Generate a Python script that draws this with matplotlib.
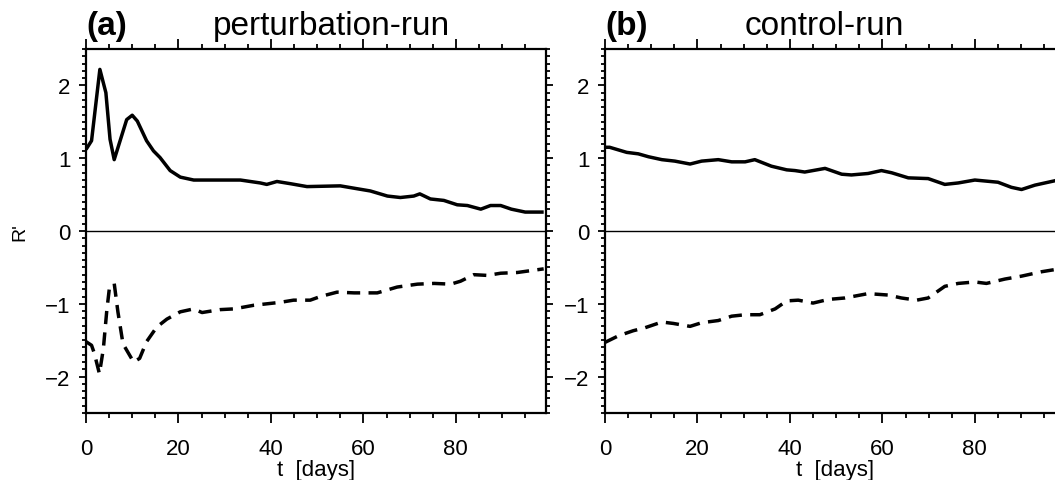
import matplotlib
matplotlib.use('Agg')
import matplotlib.pyplot as plt
from matplotlib import rcParams
from matplotlib.ticker import MultipleLocator

rcParams['font.family'] = ['Liberation Sans', 'DejaVu Sans']

# perturbation-run (a)
pert_t_solid = [0, 1.2, 3.0, 4.3, 5.2, 6.1, 8.8, 10, 11.1, 13.1, 14.6, 16, 18.2, 20.4, 23.3, 27.6,
                33.4, 37.7, 39.1, 41.3, 44.2, 47.8, 55, 58.7, 61.5, 65.2, 68, 70.9, 72.2, 74.5,
                77.4, 80.3, 82.5, 85.4, 87.5, 89.7, 92, 95, 99]
pert_solid = [1.12, 1.24, 2.22, 1.90, 1.26, 0.98, 1.53, 1.59, 1.51, 1.24, 1.10, 1.01, 0.83, 0.74,
              0.70, 0.70, 0.70, 0.66, 0.64, 0.68, 0.65, 0.61, 0.62, 0.58, 0.55, 0.48, 0.46, 0.48,
              0.51, 0.44, 0.42, 0.36, 0.35, 0.30, 0.35, 0.35, 0.30, 0.26, 0.26]
pert_t_dash = [0, 1.2, 1.8, 2.9, 3.75, 4.5, 5.05, 6.1, 6.9, 8.0, 10.3, 11.6, 13.1, 15.3, 17.5, 20.4,
               23.3, 25.1, 29, 32, 36.3, 42, 44.9, 48.5, 50.7, 54.3, 58, 63, 67.3, 71.7, 75.3,
               78.9, 81, 83.9, 86.8, 89.7, 93.3, 99]
pert_dash = [-1.52, -1.57, -1.68, -1.96, -1.62, -1.09, -0.79, -0.72, -1.11, -1.55, -1.80, -1.75,
             -1.52, -1.32, -1.21, -1.11, -1.07, -1.12, -1.08, -1.07, -1.02, -0.98, -0.95, -0.95,
             -0.90, -0.84, -0.85, -0.85, -0.77, -0.73, -0.72, -0.73, -0.69, -0.60, -0.61, -0.58,
             -0.57, -0.52]

# control-run (b)
ctrl_t_solid = [0, 1, 4.7, 7.2, 9.4, 12.3, 15.1, 18.4, 20.9, 24.5, 27.4, 30.3, 32.4, 36.0, 39.3,
                41.1, 43.2, 47.6, 51.2, 53.3, 56.9, 59.8, 62, 65.6, 69.9, 73.5, 76.4, 80, 85,
                87.9, 90.1, 93, 97.3, 99]
ctrl_solid = [1.15, 1.15, 1.08, 1.06, 1.02, 0.98, 0.96, 0.92, 0.96, 0.98, 0.95, 0.95, 0.98, 0.89,
              0.84, 0.83, 0.81, 0.86, 0.78, 0.77, 0.79, 0.83, 0.80, 0.73, 0.72, 0.64, 0.66, 0.70,
              0.67, 0.60, 0.57, 0.63, 0.69, 0.72]
ctrl_t_dash = [0, 2.9, 6.1, 8.6, 12.3, 14.8, 18.4, 20.9, 24.5, 27.4, 30.3, 33.5, 36.8, 39.3, 41.8,
               45.0, 48.3, 51.9, 56.9, 61.3, 64.1, 67.4, 69.9, 73.5, 76.4, 80, 82.5, 86.5, 90.1,
               94.4, 97.3, 99]
ctrl_dash = [-1.53, -1.44, -1.37, -1.33, -1.25, -1.27, -1.31, -1.26, -1.23, -1.17, -1.15, -1.15,
             -1.07, -0.96, -0.95, -0.99, -0.94, -0.92, -0.86, -0.88, -0.92, -0.95, -0.92, -0.76,
             -0.72, -0.70, -0.72, -0.66, -0.62, -0.56, -0.53, -0.51]

W, H = 1055, 481
fig = plt.figure(figsize=(W / 100, H / 100), dpi=100)

def pos(left, right, top, bottom):
    return [left / W, 1 - bottom / H, (right - left) / W, (bottom - top) / H]

def panel(ax, t1, y1, t2, y2, tag, name, name_x):
    ax.axhline(0, color='black', lw=1.0, zorder=1)
    ax.plot(t1, y1, color='black', lw=2.5, solid_joinstyle='round', solid_capstyle='butt')
    ax.plot(t2, y2, color='black', lw=2.5, dashes=(3.8, 2.4), dash_capstyle='butt')
    ax.set_xlim(0, 99.5)
    ax.set_ylim(-2.5, 2.5)
    ax.xaxis.set_major_locator(MultipleLocator(20))
    ax.xaxis.set_minor_locator(MultipleLocator(5))
    ax.yaxis.set_major_locator(MultipleLocator(1))
    ax.yaxis.set_minor_locator(MultipleLocator(0.1))
    ax.tick_params(which='both', direction='out', top=True, right=True, width=1.3)
    ax.tick_params(axis='x', which='major', length=7, labelsize=16, pad=11)
    ax.tick_params(axis='x', which='minor', length=3.5)
    ax.tick_params(axis='y', which='major', length=5, labelsize=16, pad=6)
    ax.tick_params(axis='y', which='minor', length=3)
    for s in ax.spines.values():
        s.set_linewidth(1.6)
    ax.set_xlabel('t  [days]', fontsize=16, labelpad=0)
    ax.text(0, 1.04, tag, transform=ax.transAxes, fontsize=24, fontweight='bold',
            ha='left', va='baseline')
    ax.text(name_x, 1.04, name, transform=ax.transAxes, fontsize=24,
            ha='center', va='baseline')

ax1 = fig.add_axes(pos(86, 546, 50, 414))
panel(ax1, pert_t_solid, pert_solid, pert_t_dash, pert_dash, '(a)', 'perturbation-run', 0.533)

ax2 = fig.add_axes(pos(605, 1065, 50, 414))
panel(ax2, ctrl_t_solid, ctrl_solid, ctrl_t_dash, ctrl_dash, '(b)', 'control-run', 0.476)

fig.text(20 / W, 1 - 232 / H, "R'", rotation=90, fontsize=14, ha='center', va='center')

plt.savefig('out.png', dpi=100)
